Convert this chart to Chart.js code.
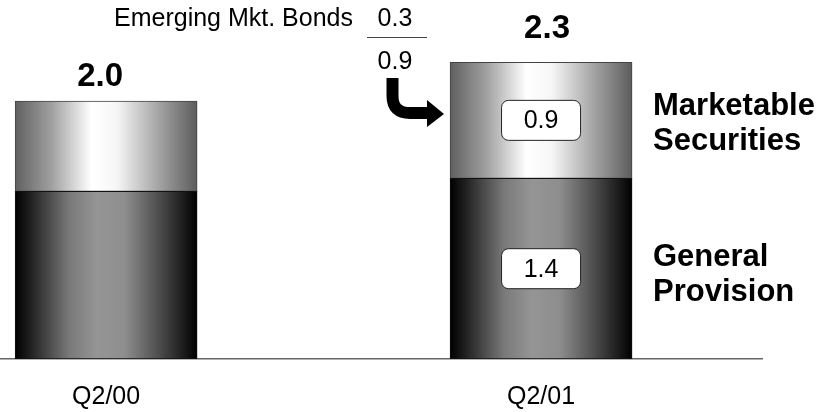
<!DOCTYPE html>
<html>
<head>
<meta charset="utf-8">
<script src="https://cdn.jsdelivr.net/npm/chart.js@4/dist/chart.umd.min.js"></script>
<style>
  html, body { margin: 0; background: #fff; }
  #wrap { width: 827px; height: 412px; position: relative; }
</style>
</head>
<body>
<div id="wrap"><canvas id="reserves"></canvas></div>
<script>
const categories = ['Q2/00', 'Q2/01'];
const generalProvision = [1.3, 1.4];
const marketableSecurities = [0.7, 0.9];
const emergingBonds = 0.3;
const seriesNames = [['General', 'Provision'], ['Marketable', 'Securities']];

const FONT = '"Liberation Sans", Arial, sans-serif';
const BAR_W = 182;

// cylinder-style shading across each bar
const darkStops = [[0, '#000'], [0.08, '#1e1e1e'], [0.3, '#7a7a7a'], [0.45, '#959595'], [0.6, '#8e8e8e'], [0.8, '#4a4a4a'], [0.93, '#1a1a1a'], [1, '#000']];
const lightStops = [[0, '#606060'], [0.2, '#a0a0a0'], [0.42, '#ffffff'], [0.56, '#f6f6f6'], [0.8, '#a0a0a0'], [1, '#5c5c5c']];

function shade(stops) {
  return (ctx) => {
    const chart = ctx.chart;
    if (!chart.chartArea || ctx.dataIndex === undefined) return stops[2][1];
    const cx = chart.scales.x.getPixelForValue(ctx.dataIndex);
    const g = chart.ctx.createLinearGradient(cx - BAR_W / 2, 0, cx + BAR_W / 2, 0);
    stops.forEach(([p, c]) => g.addColorStop(p, c));
    return g;
  };
}

function roundRect(c, x, y, w, h, r) {
  c.beginPath();
  c.moveTo(x + r, y);
  c.arcTo(x + w, y, x + w, y + h, r);
  c.arcTo(x + w, y + h, x, y + h, r);
  c.arcTo(x, y + h, x, y, r);
  c.arcTo(x, y, x + w, y, r);
  c.closePath();
}

const annotations = {
  id: 'annotations',
  afterDatasetsDraw(chart) {
    const c = chart.ctx;
    const xs = chart.scales.x, ys = chart.scales.y;
    const last = categories.length - 1;
    c.save();
    c.fillStyle = '#000';
    c.textAlign = 'center';
    c.textBaseline = 'middle';

    // totals above the bars
    const totalShift = [[-6, 25], [6, 34]];
    categories.forEach((_, i) => {
      const total = generalProvision[i] + marketableSecurities[i];
      const x = xs.getPixelForValue(i) + totalShift[i][0];
      const y = ys.getPixelForValue(total) - totalShift[i][1];
      c.font = 'bold 33px ' + FONT;
      c.fillText(total.toFixed(1), x, y + 1);
    });

    // value boxes inside the latest bar, series names to the right
    const cx = xs.getPixelForValue(last);
    const segs = [
      [0, generalProvision[last]],
      [generalProvision[last], generalProvision[last] + marketableSecurities[last]],
    ];
    const segValues = [generalProvision[last], marketableSecurities[last]];
    const nameShift = [[-11, 24], [-14, 21]];
    segs.forEach(([a, b], k) => {
      const cy = (ys.getPixelForValue(a) + ys.getPixelForValue(b)) / 2;
      roundRect(c, cx - 39.5, cy - 20, 79, 40, 7);
      c.fillStyle = '#fff';
      c.fill();
      c.strokeStyle = '#222';
      c.lineWidth = 1;
      c.stroke();
      c.fillStyle = '#000';
      c.font = '25px ' + FONT;
      c.fillText(segValues[k].toFixed(1), cx, cy + 1);

      c.textAlign = 'left';
      c.font = 'bold 31px ' + FONT;
      c.fillText(seriesNames[k][0], 653, cy + nameShift[k][0]);
      c.fillText(seriesNames[k][1], 653, cy + nameShift[k][1]);
      c.textAlign = 'center';
    });

    // emerging market bonds share of marketable securities
    c.font = '25px ' + FONT;
    c.textAlign = 'right';
    c.fillText('Emerging Mkt. Bonds', 353, 19);
    c.textAlign = 'center';
    c.fillText(emergingBonds.toFixed(1), 395, 19);
    c.fillText(marketableSecurities[last].toFixed(1), 395, 62);
    c.strokeStyle = '#444';
    c.lineWidth = 1;
    c.beginPath();
    c.moveTo(367, 37.5);
    c.lineTo(427, 37.5);
    c.stroke();

    // curved arrow pointing at the marketable segment
    c.strokeStyle = '#000';
    c.lineWidth = 12;
    c.beginPath();
    c.moveTo(392.5, 78);
    c.lineTo(392.5, 96);
    c.quadraticCurveTo(392.5, 113, 410, 113);
    c.lineTo(430, 113);
    c.stroke();
    c.beginPath();
    c.moveTo(427, 100);
    c.lineTo(444, 114);
    c.lineTo(427, 127);
    c.closePath();
    c.fill();
    c.restore();
  },
};

new Chart(document.getElementById('reserves'), {
  type: 'bar',
  data: {
    datasets: [
      {
        label: seriesNames[0].join(' '),
        data: generalProvision.map((v, i) => ({ x: i, y: v })),
        backgroundColor: shade(darkStops),
        borderColor: '#111',
        borderWidth: 1,
        borderSkipped: false,
        barThickness: BAR_W,
      },
      {
        label: seriesNames[1].join(' '),
        data: marketableSecurities.map((v, i) => ({ x: i, y: v })),
        backgroundColor: shade(lightStops),
        borderColor: '#444',
        borderWidth: 1,
        borderSkipped: false,
        barThickness: BAR_W,
      },
    ],
  },
  options: {
    responsive: true,
    maintainAspectRatio: false,
    animation: false,
    layout: { padding: { left: 0, right: 65, top: 36.5, bottom: 0 } },
    plugins: { legend: { display: false }, tooltip: { enabled: false } },
    scales: {
      x: {
        type: 'linear',
        stacked: true,
        offset: false,
        min: -0.244,
        max: 1.508,
        afterBuildTicks: (axis) => { axis.ticks = categories.map((_, i) => ({ value: i })); },
        afterFit: (axis) => { axis.height = 53; },
        ticks: {
          callback: (v) => categories[v] ?? '',
          color: '#000',
          padding: 23,
          font: { family: FONT, size: 25 },
          maxRotation: 0,
          autoSkip: false,
        },
        grid: { display: false, drawTicks: false, offset: false },
        border: { display: true, color: '#666', width: 1.5 },
      },
      y: {
        display: false,
        stacked: true,
        min: 0,
        max: 2.5,
      },
    },
  },
  plugins: [annotations],
});
</script>
</body>
</html>
